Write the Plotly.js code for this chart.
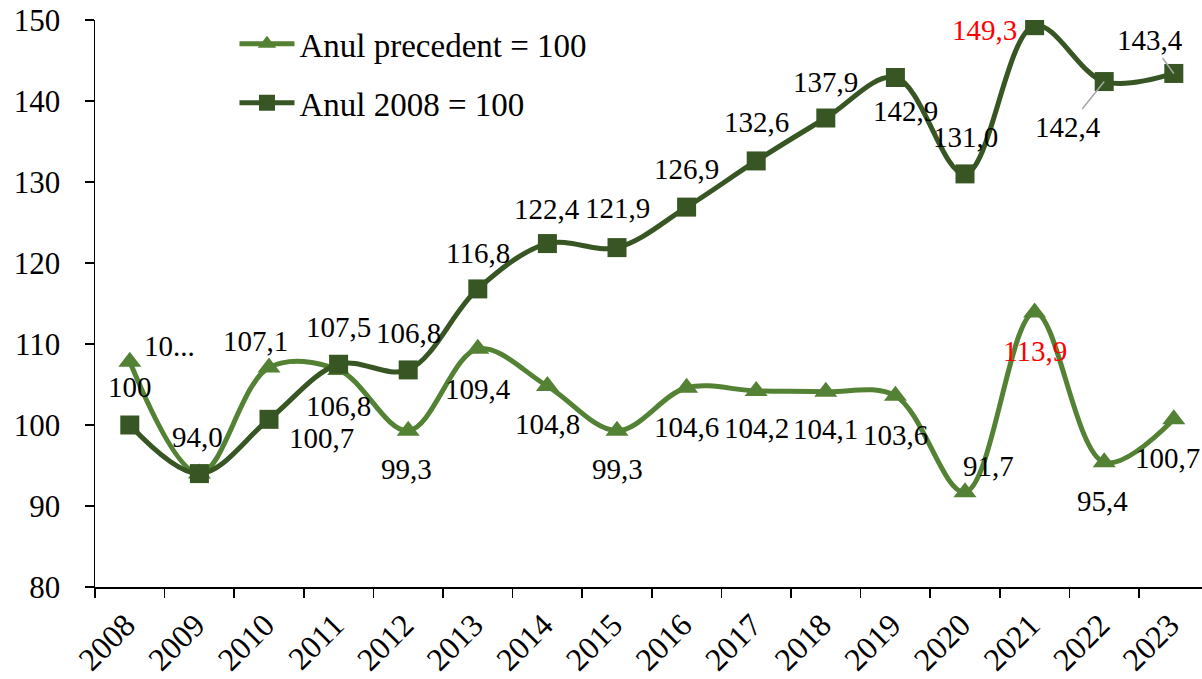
<!DOCTYPE html>
<html><head><meta charset="utf-8">
<script src="https://cdn.plot.ly/plotly-3.0.1.min.js"></script>
<style>html,body{margin:0;padding:0;background:#fff;overflow:hidden}#chart{width:1202px;height:679px}</style>
</head><body><div id="chart"></div>
<script>
// ---- data ----
const years = ['2008','2009','2010','2011','2012','2013','2014','2015','2016','2017','2018','2019','2020','2021','2022','2023'];
const precedentValues = [107.8, 94.0, 107.1, 106.8, 99.3, 109.4, 104.8, 99.3, 104.6, 104.2, 104.1, 103.6, 91.7, 113.9, 95.4, 100.7];
const base2008Values = [100, 94.0, 100.7, 107.5, 106.8, 116.8, 122.4, 121.9, 126.9, 132.6, 137.9, 142.9, 131.0, 149.3, 142.4, 143.4];
const precedentLabels = ['10...', '', '107,1', '106,8', '99,3', '109,4', '104,8', '99,3', '104,6', '104,2', '104,1', '103,6', '91,7', '113,9', '95,4', '100,7'];
const base2008Labels = ['100', '94,0', '100,7', '107,5', '106,8', '116,8', '122,4', '121,9', '126,9', '132,6', '137,9', '142,9', '131,0', '149,3', '142,4', '143,4'];
const seriesNames = ['Anul precedent = 100', 'Anul 2008 = 100'];

// ---- label placement (pixel offsets, dy downward) ----
const precedentOffsets = [[40,-16],[0,0],[-14,-26],[0,36],[-2,38],[0,40],[0,38],[0,38],[0,39],[0,37],[0,37],[0,39],[23,-26],[0,39],[-2,39],[-6,39]];
const base2008Offsets = [[0,-38],[-2,-37],[52,19],[0,-37],[0,-37],[0,-36],[0,-35],[0,-40],[0,-38],[0,-39],[0,-36],[10,33],[0,-37],[-50,4],[-36,45],[-24,-33]];
const redIndex = 13;
const leaderIndices = [14, 15];

const FONT = 'Liberation Serif';
const LIGHT = '#548235';
const DARK = '#375623';

function buildLabels(values, labels, offsets, leaders) {
  const out = [];
  values.forEach((v, i) => {
    if (!labels[i]) return;
    const col = i === redIndex ? '#ff0000' : '#000000';
    const base = {
      x: i, y: v, xref: 'x', yref: 'y', text: labels[i],
      font: {family: FONT, size: 29, color: col}
    };
    if (leaders.indexOf(i) >= 0) {
      Object.assign(base, {showarrow: true, arrowhead: 0, arrowwidth: 1.5, arrowcolor: '#a6a6a6',
        ax: offsets[i][0], ay: offsets[i][1], standoff: 0});
    } else {
      Object.assign(base, {showarrow: false, xshift: offsets[i][0], yshift: -offsets[i][1]});
    }
    out.push(base);
  });
  return out;
}

const traces = [
  {x: years, y: precedentValues, name: seriesNames[0], type: 'scatter', mode: 'lines+markers',
   line: {color: LIGHT, width: 5, shape: 'spline', smoothing: 1},
   marker: {symbol: 'triangle-up', size: 20, color: LIGHT, line: {width: 0}},
   legend: 'legend'},
  {x: years, y: base2008Values, name: seriesNames[1], type: 'scatter', mode: 'lines+markers',
   line: {color: DARK, width: 5, shape: 'spline', smoothing: 1},
   marker: {symbol: 'square', size: 19, color: DARK, line: {width: 0}},
   legend: 'legend2'}
];

const legendCommon = {font: {family: FONT, size: 33, color: '#000'}, bgcolor: 'rgba(0,0,0,0)',
  itemwidth: 55, xanchor: 'left', yanchor: 'middle', borderwidth: 0};

const layout = {
  width: 1202, height: 679,
  margin: {l: 95, r: 0, t: 20, b: 92},
  paper_bgcolor: '#fff', plot_bgcolor: '#fff',
  font: {family: FONT, color: '#000'},
  showlegend: true,
  legend: Object.assign({x: 0.126, y: 0.958}, legendCommon),
  legend2: Object.assign({x: 0.126, y: 0.854}, legendCommon),
  xaxis: {type: 'category', range: [-0.5, 15.405], tickson: 'boundaries', ticks: 'outside', ticklen: 9,
    tickwidth: 1.5, tickcolor: '#000', showline: true, linecolor: '#000', linewidth: 1.5,
    showgrid: false, zeroline: false, tickangle: -45, ticklabelstandoff: 5, ticklabelshift: -4,
    tickfont: {family: FONT, size: 32, color: '#000'}},
  yaxis: {range: [80, 150], dtick: 10, ticks: 'outside', ticklen: 9, tickwidth: 1.5, tickcolor: '#000',
    showline: true, linecolor: '#000', linewidth: 1.5, showgrid: false, zeroline: false,
    ticklabelstandoff: 18, tickfont: {family: FONT, size: 31, color: '#000'}},
  annotations: buildLabels(precedentValues, precedentLabels, precedentOffsets, [])
    .concat(buildLabels(base2008Values, base2008Labels, base2008Offsets, leaderIndices))
};

Plotly.newPlot('chart', traces, layout, {displayModeBar: false, staticPlot: true});
</script>
</body></html>
